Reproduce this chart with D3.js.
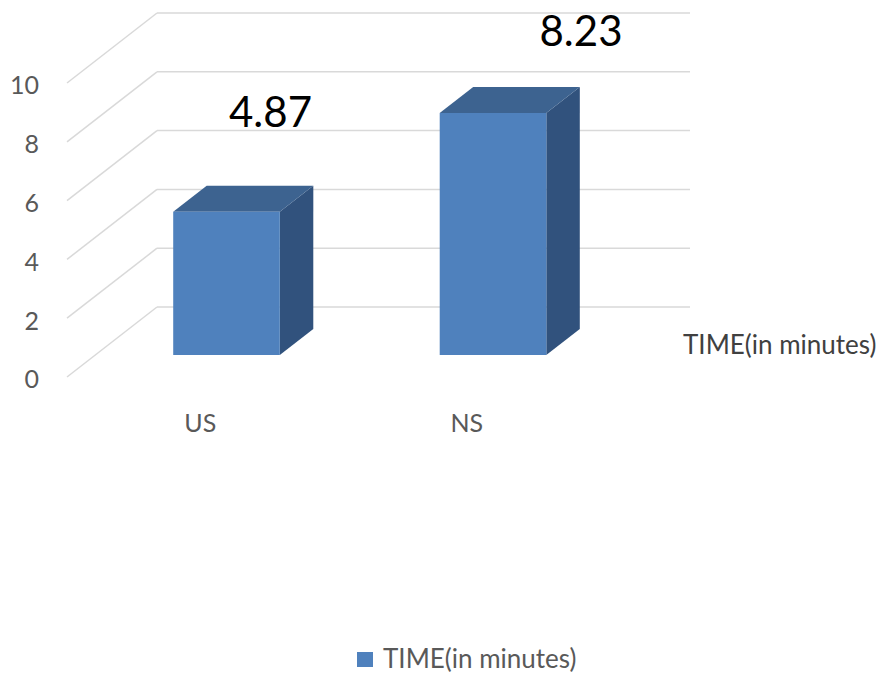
<!DOCTYPE html>
<html>
<head>
<meta charset="utf-8">
<script src="https://cdn.jsdelivr.net/npm/d3@7/dist/d3.min.js"></script>
<style>
  html, body { margin: 0; padding: 0; background: #ffffff; }
  svg { display: block; }
  text { font-family: Lato, "Open Sans", sans-serif; }
</style>
</head>
<body>
<svg id="chart" width="886" height="677"></svg>
<script>
// Average time per method
const categories = ["US", "NS"];
const values = [4.87, 8.23];
const seriesName = "TIME(in minutes)";
const yTicks = [0, 2, 4, 6, 8, 10];

const svg = d3.select("#chart");

// Oblique 3D projection: front plane at depth 0, back wall at depth 1
const depthDX = 90, depthDY = -70;
const proj = (x, y, t) => [x + depthDX * t, y + depthDY * t];

const x = d3.scaleBand().domain(categories).range([65, 598]).paddingInner(0).paddingOuter(0);
const y = d3.scaleLinear().domain([0, 10]).range([377, 83]);

const barFrac = 0.4;           // bar width as share of band
const tFront = 0.314, tBack = 0.686;

const grid = svg.append("g").attr("stroke", "#d9d9d9").attr("stroke-width", 1.5).attr("fill", "none");
yTicks.forEach(v => {
  const f = [x.range()[0] + 2, y(v)];
  const b = proj(f[0], f[1], 1);
  const bEnd = proj(x.range()[1] + 2, y(v), 1);
  grid.append("line").attr("x1", f[0]).attr("y1", f[1]).attr("x2", b[0]).attr("y2", b[1]);
  grid.append("line").attr("x1", b[0]).attr("y1", b[1]).attr("x2", bEnd[0]).attr("y2", bEnd[1]);
});

// Value axis labels
svg.append("g").selectAll("text").data(yTicks).join("text")
  .attr("x", 39).attr("y", d => y(d) + 5)
  .attr("text-anchor", "end").attr("dominant-baseline", "middle")
  .attr("font-size", 25).attr("fill", "#595959")
  .text(d => d);

// Category labels
svg.append("g").selectAll("text").data(categories).join("text")
  .attr("x", d => x(d) + x.bandwidth() / 2 + 2).attr("y", 426)
  .attr("text-anchor", "middle").attr("dominant-baseline", "middle")
  .attr("font-size", 25).attr("fill", "#595959")
  .text(d => d);

// Bars as prisms
const pts = a => a.map(p => p.join(",")).join(" ");
const bars = svg.append("g");
categories.forEach((c, i) => {
  const w = x.bandwidth() * barFrac;
  const x0 = x(c) + (x.bandwidth() - w) / 2, x1 = x0 + w;
  const yb = y(0), yt = y(values[i]);
  const fbl = proj(x0, yb, tFront), fbr = proj(x1, yb, tFront);
  const ftl = proj(x0, yt, tFront), ftr = proj(x1, yt, tFront);
  const bbr = proj(x1, yb, tBack);
  const btl = proj(x0, yt, tBack), btr = proj(x1, yt, tBack);
  bars.append("polygon").attr("points", pts([fbr, bbr, btr, ftr])).attr("fill", "#31527d");
  bars.append("polygon").attr("points", pts([ftl, ftr, btr, btl])).attr("fill", "#3d6390");
  bars.append("polygon").attr("points", pts([fbl, fbr, ftr, ftl])).attr("fill", "#4f81bd");
});

// Data labels, nudged off the bar tops
const nudges = [[44, -85], [88, -67]];
svg.append("g").selectAll("text").data(values).join("text")
  .attr("x", (d, i) => x(categories[i]) + x.bandwidth() / 2 + proj(0, 0, tFront)[0] + nudges[i][0])
  .attr("y", (d, i) => y(d) + proj(0, 0, tFront)[1] + nudges[i][1])
  .attr("text-anchor", "middle")
  .attr("font-size", 42).attr("fill", "#000000")
  .text(d => d.toFixed(2));

// Depth axis title
svg.append("text").attr("x", 683).attr("y", 347)
  .attr("dominant-baseline", "middle")
  .attr("font-size", 26).attr("fill", "#404040")
  .text(seriesName);

// Legend
const lg = svg.append("g");
lg.append("rect").attr("x", 357).attr("y", 652).attr("width", 16).attr("height", 15).attr("fill", "#4f81bd");
lg.append("text").attr("x", 383).attr("y", 661).attr("dominant-baseline", "middle")
  .attr("font-size", 26).attr("fill", "#595959").text(seriesName);
</script>
</body>
</html>
